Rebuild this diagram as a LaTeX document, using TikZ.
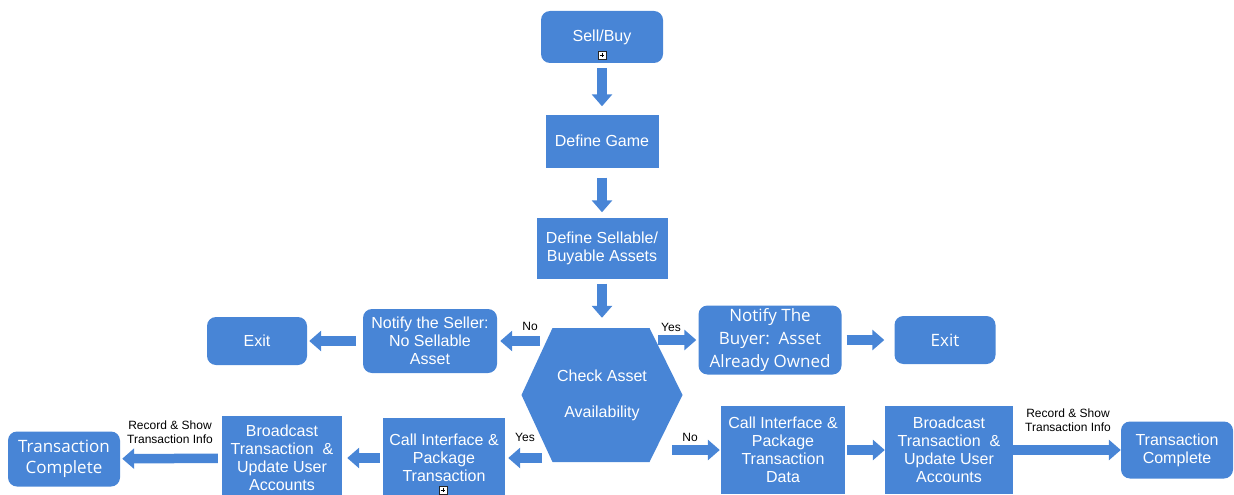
\documentclass[tikz,border=0pt]{standalone}
\usepackage{fontspec}
\setmainfont{Liberation Sans}
\newfontfamily\opensans{Open Sans}
\usetikzlibrary{arrows.meta}
\definecolor{flowblue}{RGB}{72,133,214}
\tikzset{
  box/.style={fill=flowblue, text=white, align=center, inner sep=0pt,
    font=\fontsize{16}{18}\selectfont},
  rbox/.style={box, rounded corners=9pt},
  hexbox/.style={fill=white, text=white, align=center, inner sep=0pt,
    font=\fontsize{16}{36}\selectfont,
    path picture={\fill[flowblue] (path picture bounding box.west)
      -- ([xshift=31pt]path picture bounding box.north west)
      -- ([xshift=-33pt]path picture bounding box.north east)
      -- (path picture bounding box.east)
      -- ([xshift=-33pt]path picture bounding box.south east)
      -- ([xshift=31pt]path picture bounding box.south west) -- cycle;}},
  blockarrow/.style={draw=flowblue, line width=9.5pt,
    -{Triangle[width=20pt,length=12pt]}},
  lbl/.style={font=\fontsize{12}{13.5}\selectfont, align=center, inner sep=0pt},
  plusicon/.style={draw=black!85, fill=white, minimum size=8pt, inner sep=0pt,
    line width=0.6pt,
    path picture={\draw[black, line width=0.7pt]
      ([yshift=-1.6pt]path picture bounding box.north) -- ([yshift=1.6pt]path picture bounding box.south)
      ([xshift=1.6pt]path picture bounding box.west) -- ([xshift=-1.6pt]path picture bounding box.east);}}
}
\begin{document}
\begin{tikzpicture}[x=1pt, y=-1pt]
\useasboundingbox (0,0) rectangle (1234,495);

% main column
\node[rbox, minimum width=122pt, minimum height=52pt] (sell) at (602,37) {Sell/Buy};
\node[plusicon] (sellplus) at (602,55) {};
\node[box, minimum width=113pt, minimum height=53pt] (game) at (602,141) {Define Game};
\node[box, minimum width=131pt, minimum height=61pt] (assets) at (602,248) {Define Sellable/\\Buyable Assets};
\node[hexbox, minimum width=161pt, minimum height=134pt] (check) at (602,395) {Check Asset\\Availability};

% upper branches
\node[rbox, minimum width=134pt, minimum height=64pt] (seller) at (430,341) {Notify the Seller:\\No Sellable\\Asset};
\node[rbox, minimum width=100pt, minimum height=48pt] (exitL) at (257,341) {Exit};
\node[rbox, minimum width=143pt, minimum height=69pt, font=\opensans\fontsize{17}{23}\selectfont] (buyer) at (770,340) {Notify The\\Buyer:\ \ Asset\\Already Owned};
\node[rbox, minimum width=101pt, minimum height=48pt, font=\opensans\fontsize{17}{20}\selectfont] (exitR) at (945,340) {Exit};

% lower left branch
\node[box, minimum width=122pt, minimum height=80pt] (callL) at (444,458) {Call Interface \&\\Package\\Transaction};
\node[plusicon] (callplus) at (443,490) {};
\node[box, minimum width=120pt, minimum height=84pt] (broadL) at (282,458) {Broadcast\\Transaction \ \&\\Update User\\Accounts};
\node[rbox, minimum width=112pt, minimum height=55pt, font=\opensans\fontsize{17}{21}\selectfont] (transL) at (64,459) {Transaction\\Complete};

% lower right branch
\node[box, minimum width=124pt, minimum height=88pt] (callR) at (783,450) {Call Interface \&\\Package\\Transaction\\Data};
\node[box, minimum width=128pt, minimum height=88pt] (broadR) at (949,450) {Broadcast\\Transaction \ \&\\Update User\\Accounts};
\node[rbox, minimum width=112pt, minimum height=57pt] (transR) at (1177,450) {Transaction\\Complete};

% exits of the decision hexagon
\coordinate (chkNW) at (540,341);
\coordinate (chkNE) at (658,340);
\coordinate (chkSW) at (542,458);
\coordinate (chkSE) at (672,450);

% connectors
\draw[blockarrow, shorten <=5pt, shorten >=8pt] (sell) -- (game);
\draw[blockarrow, shorten <=10pt, shorten >=5pt] (game) -- (assets);
\draw[blockarrow, shorten <=5pt, shorten >=10pt] (assets) -- (check);
\draw[blockarrow, shorten >=3pt] (chkNW) -- (seller.east);
\draw[blockarrow, shorten <=7pt, shorten >=2pt] (seller) -- (exitL);
\draw[blockarrow, shorten >=2pt] (chkNE) -- (buyer.west);
\draw[blockarrow, shorten <=5pt, shorten >=10pt] (buyer) -- (exitR);
\draw[blockarrow, shorten >=3pt] (chkSW) -- (callL.east);
\draw[blockarrow, shorten <=3pt, shorten >=5pt] (callL) -- (broadL);
\draw[blockarrow, shorten <=4pt, shorten >=2pt] (broadL) -- (transL);
\draw[blockarrow, shorten >=1pt] (chkSE) -- (callR.west);
\draw[blockarrow, shorten <=2pt] (callR) -- (broadR);
\draw[blockarrow] (broadR) -- (transR);

% connector labels
\node[lbl] (noUp) at (530,326) {No};
\node[lbl] (yesUp) at (671,327) {Yes};
\node[lbl] (yesLow) at (525,437) {Yes};
\node[lbl] (noLow) at (690,437) {No};
\node[lbl] (recL) at (170,432) {Record \& Show\\Transaction Info};
\node[lbl] (recR) at (1068,420) {Record \& Show\\Transaction Info};
\end{tikzpicture}
\end{document}
